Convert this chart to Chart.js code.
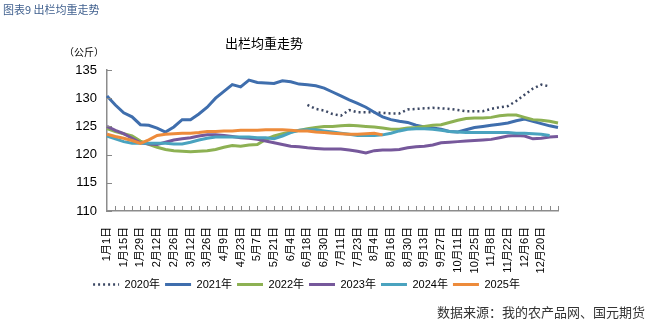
<!DOCTYPE html>
<html>
<head>
<meta charset="utf-8">
<script src="https://cdn.jsdelivr.net/npm/chart.js@4.4.1/dist/chart.umd.min.js"></script>
<style>
  body { margin: 0; background: #fff; }
  #wrap { position: relative; width: 648px; height: 322px; }
  #weightChart { display: block; }
  .txt { position: absolute; white-space: nowrap; line-height: 1; font-family: "Noto Sans CJK SC", "Liberation Sans", sans-serif; }
</style>
</head>
<body>
<div id="wrap">
  <canvas id="weightChart" width="648" height="322"></canvas>
  <div class="txt" style="left:3px;top:4px;font-size:11px;color:#41618f">图表9 出栏均重走势</div>
  <div class="txt" style="left:214px;top:36px;width:100px;text-align:center;font-size:13px;color:#000">出栏均重走势</div>
  <div class="txt" style="left:64px;top:47px;font-size:10px;color:#000">（公斤）</div>
  <div class="txt" style="right:3px;top:305px;font-size:13px;color:#333">数据来源：我的农产品网、国元期货</div>
</div>
<script>
// weekly categories, a label every second week
var weeks = ['1月1日','1月8日','1月15日','1月22日','1月29日','2月5日','2月12日','2月19日','2月26日','3月5日',
  '3月12日','3月19日','3月26日','4月2日','4月9日','4月16日','4月23日','4月30日','5月7日','5月14日',
  '5月21日','5月28日','6月4日','6月11日','6月18日','6月24日','6月30日','7月5日','7月11日','7月17日',
  '7月23日','7月29日','8月4日','8月10日','8月16日','8月23日','8月30日','9月6日','9月13日','9月20日',
  '9月27日','10月4日','10月11日','10月18日','10月25日','11月1日','11月8日','11月15日','11月22日','11月29日',
  '12月6日','12月13日','12月20日','12月27日',''];

var yearNames = ['2020年','2021年','2022年','2023年','2024年','2025年'];

var y2020 = [null,null,null,null,null,null,null,null,null,null,
  null,null,null,null,null,null,null,null,null,null,
  null,null,null,null,128.8,128.1,127.8,127.2,126.9,127.9,
  127.5,127.5,127.5,127.4,127.3,127.3,128.0,128.1,128.2,128.3,
  128.2,128.1,127.9,127.7,127.7,127.7,128.1,128.4,128.6,129.5,
  130.6,131.7,132.4,132.1,null];

var y2021 = [130.4,128.8,127.4,126.7,125.3,125.2,124.7,124.0,124.9,126.2,
  126.2,127.2,128.4,130.0,131.2,132.4,132.0,133.2,132.8,132.7,
  132.6,133.1,132.9,132.5,132.4,132.2,131.8,131.1,130.4,129.7,
  129.1,128.4,127.5,126.7,126.2,125.9,125.7,125.2,124.9,124.7,
  124.5,124.1,124.0,124.4,124.8,125.0,125.2,125.4,125.6,126.0,
  126.3,125.9,125.5,125.1,124.8];

var y2022 = [124.6,124.1,123.7,123.3,122.4,121.8,121.3,120.9,120.7,120.6,
  120.5,120.6,120.7,120.9,121.3,121.6,121.5,121.7,121.8,122.7,
  123.3,123.7,124.0,124.3,124.6,124.8,125.0,125.0,125.1,125.2,
  125.1,125.0,124.9,124.7,124.5,124.5,124.7,124.8,125.0,125.2,
  125.3,125.7,126.1,126.4,126.5,126.5,126.6,126.9,127.0,127.0,
  126.6,126.2,126.1,125.9,125.6];

var y2023 = [125.0,124.3,123.7,122.9,122.1,121.9,121.8,122.2,122.6,122.8,
  123.0,123.3,123.5,123.5,123.4,123.2,123.0,122.9,122.7,122.4,
  122.1,121.8,121.5,121.4,121.2,121.1,121.0,121.0,121.0,120.8,
  120.6,120.3,120.7,120.8,120.8,120.9,121.2,121.4,121.5,121.7,
  122.1,122.2,122.3,122.4,122.5,122.6,122.7,123.0,123.3,123.4,
  123.3,122.8,122.9,123.1,123.2];

var y2024 = [123.3,122.8,122.3,122.0,122.0,122.0,122.0,122.0,121.9,121.9,
  122.2,122.6,122.9,123.1,123.1,123.1,123.1,123.1,123.0,123.0,
  122.8,123.3,123.9,124.3,124.4,124.4,124.2,124.0,123.8,123.6,
  123.4,123.4,123.4,123.5,123.8,124.2,124.5,124.6,124.6,124.5,
  124.3,124.1,124.0,123.9,123.9,123.9,123.9,123.9,123.9,123.8,
  123.8,123.7,123.6,123.4,null];

var y2025 = [123.6,123.2,122.9,122.5,122.0,122.6,123.4,123.6,123.7,123.8,
  123.8,123.9,124.1,124.1,124.2,124.2,124.3,124.3,124.3,124.4,
  124.4,124.4,124.3,124.2,124.2,124.0,123.9,123.8,123.7,123.6,
  123.6,123.7,123.8,123.5,null,null,null,null,null,null,
  null,null,null,null,null,null,null,null,null,null,
  null,null,null,null,null];

var colours = ['#3b4763','#3f6ead','#8db153','#76589b','#4aa3bf','#ed8b3b'];

var FONT = '"Liberation Sans", "Noto Sans CJK SC", sans-serif';

function makeSet(i, values){
  return {
    label: yearNames[i],
    data: values,
    borderColor: colours[i],
    backgroundColor: colours[i],
    borderWidth: i == 0 ? 2.5 : 3,
    borderDash: i == 0 ? [2, 3] : [],
    order: 5 - i,   // 2025 drawn on top
    fill: false
  }
}

// small tick marks pointing into the plot, like the original
var innerTicks = {
  id: 'innerTicks',
  afterDatasetsDraw(chart){
    let ctx = chart.ctx;
    let x = chart.scales.x, y = chart.scales.y;
    let area = chart.chartArea;
    ctx.save();
    ctx.strokeStyle = '#888';
    ctx.lineWidth = 1;
    ctx.beginPath();
    for (let i = 1; i < weeks.length; i++) {
      let px = Math.round(x.getPixelForValue(i)) + 0.5;
      ctx.moveTo(px, area.bottom);
      ctx.lineTo(px, area.bottom - 5);
    }
    y.ticks.forEach(function(t){
      let py = Math.round(y.getPixelForValue(t.value)) + 0.5;
      ctx.moveTo(area.left, py);
      ctx.lineTo(area.left + 5, py);
    });
    ctx.stroke();
    ctx.restore();
  }
};

var ctx = document.getElementById('weightChart').getContext('2d');

var myChart = new Chart(ctx, {
  type: 'line',
  data: {
    labels: weeks,
    datasets: [
      makeSet(0, y2020), makeSet(1, y2021), makeSet(2, y2022),
      makeSet(3, y2023), makeSet(4, y2024), makeSet(5, y2025)
    ]
  },
  options: {
    responsive: false,
    devicePixelRatio: 1,
    animation: false,
    layout: { padding: { left: 55, right: 90, top: 70, bottom: 22 } },
    elements: {
      point: { radius: 0, hoverRadius: 0 },
      line: { tension: 0 }
    },
    plugins: {
      tooltip: { enabled: false },
      legend: {
        position: 'bottom',
        align: 'center',
        labels: {
          usePointStyle: true,
          pointStyle: 'line',
          pointStyleWidth: 26,
          padding: 5,
          color: '#000',
          font: { family: FONT, size: 11 },
          sort: (a, b) => a.datasetIndex - b.datasetIndex,
          generateLabels: function(chart){
            let items = Chart.defaults.plugins.legend.labels.generateLabels(chart);
            items.forEach(function(it){
              let ds = chart.data.datasets[it.datasetIndex];
              it.lineDash = ds.borderDash;
              it.lineWidth = ds.borderWidth;
              it.strokeStyle = ds.borderColor;
            });
            return items;
          }
        }
      }
    },
    scales: {
      x: {
        grid: { drawOnChartArea: false, drawTicks: false },
        border: { color: '#8c8c8c', width: 1.5 },
        ticks: {
          autoSkip: false,
          maxRotation: 90,
          minRotation: 90,
          padding: 16,
          color: '#000',
          font: { family: FONT, size: 11 },
          callback: function(v, i){ return i % 2 == 0 ? weeks[i] : ''; }
        },
        afterFit: function(s){ s.height = 63; }
      },
      y: {
        min: 110,
        max: 135,
        grid: { drawOnChartArea: false, drawTicks: false },
        border: { color: '#8c8c8c', width: 1.5 },
        ticks: {
          stepSize: 5,
          padding: 10,
          color: '#000',
          font: { family: FONT, size: 13 }
        },
        afterFit: function(s){ s.width = 52; }
      }
    }
  },
  plugins: [innerTicks]
});
</script>
</body>
</html>
